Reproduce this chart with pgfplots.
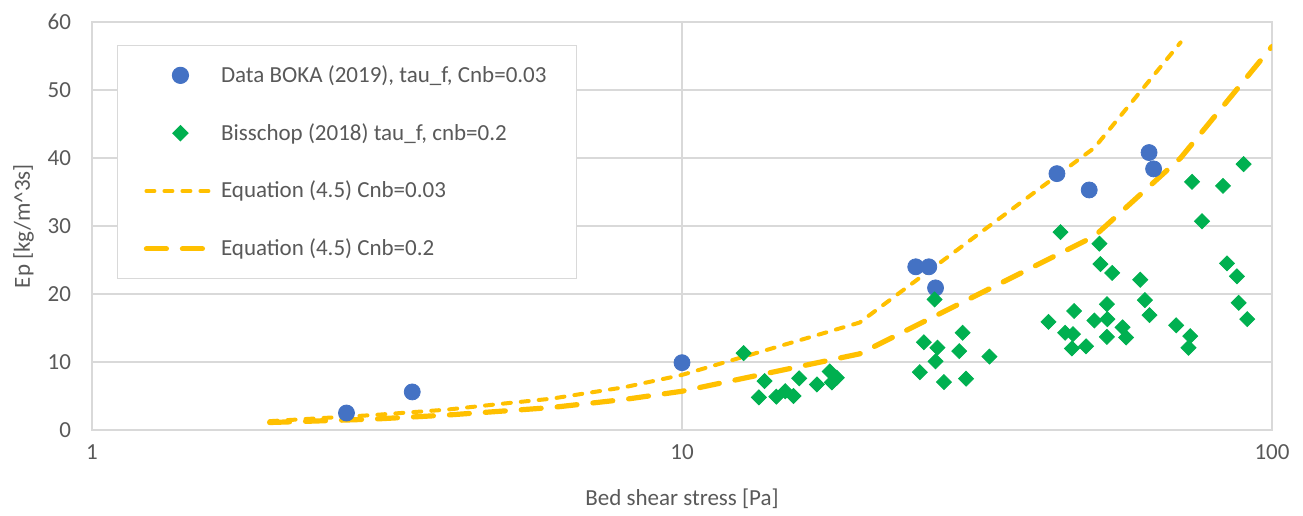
\documentclass[border=0pt]{standalone}
\usepackage{fontspec}
\setmainfont{Carlito}
\usepackage{pgfplots}
\pgfplotsset{compat=1.18}
\usetikzlibrary{calc}

\definecolor{txtgray}{HTML}{595959}
\definecolor{gridgray}{HTML}{D9D9D9}
\definecolor{bokablue}{HTML}{4472C4}
\definecolor{bissgreen}{HTML}{00B050}
\definecolor{eqyellow}{HTML}{FFC000}

\begin{document}
\begin{tikzpicture}[font=\fontsize{11.5}{13.8}\selectfont]
\begin{axis}[
    name=ax,
    at={(0,0)}, anchor=south west,
    scale only axis,
    width=590pt, height=204pt,
    xmode=log,
    xmin=1, xmax=100,
    ymin=0, ymax=60,
    xtick={1,10,100},
    xticklabels={1,10,100},
    ytick={0,10,...,60},
    /pgf/number format/assume math mode=true,
    major tick length=0pt,
    minor tick length=0pt,
    minor tick num=0,
    xminorgrids=false,
    grid=major,
    grid style={gridgray, line width=0.6pt},
    axis line style={gridgray, line width=0.6pt},
    ticklabel style={txtgray},
    yticklabel style={xshift=-7pt},
    xticklabel style={yshift=-4pt},
    xlabel={Bed shear stress [Pa]},
    ylabel={Ep [kg/m\textasciicircum 3s]},
    label style={txtgray},
    xlabel style={yshift=-7.5pt},
    ylabel style={yshift=0pt},
    legend cell align=left,
    legend style={at={(0.0214,0.944)}, anchor=north west,
        draw=gridgray, line width=0.6pt, fill=white, text=txtgray,
        inner xsep=13pt, inner ysep=8pt, row sep=15pt,
        nodes={inner sep=2pt}},
    legend image code/.code={\draw[mark repeat=2,mark phase=2,#1]
        plot coordinates {(0pt,0pt) (17pt,0pt) (34pt,0pt)};},
]
\addplot[only marks, mark=*, mark size=4pt, draw=bokablue, fill=bokablue]
coordinates {(2.70,2.5) (3.49,5.6) (10.0,9.9) (24.9,24.0) (26.2,24.0)
  (26.9,20.9) (43.2,37.7) (49.0,35.3) (61.9,40.8) (63.0,38.4)};
\addlegendentry{Data BOKA (2019), tau\_f, Cnb=0.03\hspace{8pt}}

\addplot[only marks, mark=square*, mark size=2.65pt, mark options={rotate=45},
    draw=bissgreen, fill=bissgreen]
coordinates {(12.72,11.3) (13.8,7.2) (13.5,4.8) (14.45,4.9) (14.96,5.7)
  (15.45,5.0) (15.8,7.6) (16.93,6.7) (17.8,8.6) (18.3,7.7) (17.95,7.0)
  (25.3,8.5) (25.7,12.9) (26.8,19.2) (26.9,10.1) (27.1,12.1) (27.8,7.05)
  (29.5,11.6) (29.9,14.3) (30.3,7.55) (33.2,10.8)
  (41.8,15.9) (43.8,29.1) (44.6,14.3) (45.8,12.0) (46.0,14.1) (46.2,17.5)
  (48.4,12.3) (50.0,16.1) (51.0,27.4) (51.2,24.4) (52.5,18.5) (52.6,16.3)
  (52.5,13.7) (53.6,23.1) (55.8,15.1) (56.6,13.6) (59.8,22.1) (60.9,19.1)
  (62.0,16.9) (68.8,15.4) (72.7,13.8) (72.2,12.1) (73.2,36.5) (76.1,30.7)
  (82.6,35.9) (83.9,24.5) (87.2,22.6) (87.8,18.7) (89.5,39.1) (90.8,16.3)};
\addlegendentry{Bisschop (2018) tau\_f, cnb=0.2}

\addplot[eqyellow, line width=2pt, line cap=round, dash pattern=on 4pt off 5pt, mark=none]
coordinates {(2,1.3) (3,2.2) (4,3.0) (5,3.9) (6,4.6) (8,6.3) (10,8.1)
  (20,15.8) (50,41.5) (70,57.0)};
\addlegendentry{Equation (4.5) Cnb=0.03}

\addplot[eqyellow, line width=2.6pt, line cap=round, dash pattern=on 10pt off 8pt, mark=none]
coordinates {(2,1.1) (3,1.6) (4,2.2) (5,2.8) (6,3.3) (8,4.5) (10,5.7)
  (20,11.2) (50,28.5) (70,40.0) (100,56.4)};
\addlegendentry{Equation (4.5) Cnb=0.2}
\end{axis}
\path ($(ax.south west)+(-46pt,-41pt)$) rectangle ($(ax.north east)+(15.5pt,11pt)$);
\end{tikzpicture}
\end{document}
